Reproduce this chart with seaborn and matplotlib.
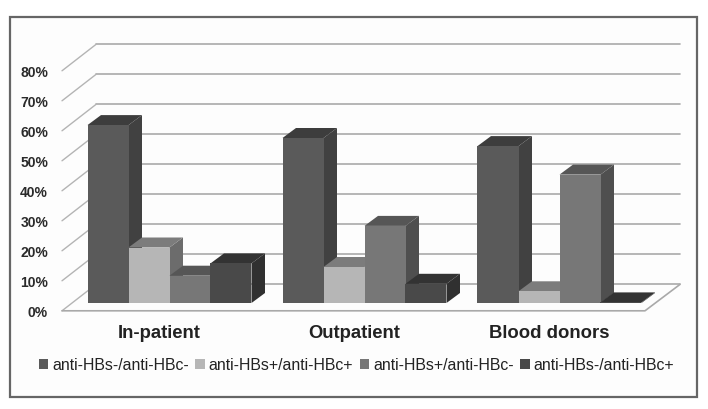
import matplotlib
matplotlib.use("Agg")
import matplotlib.pyplot as plt
from matplotlib.patches import Polygon, Rectangle
import pandas as pd
import seaborn as sns

categories = ["In-patient", "Outpatient", "Blood donors"]
series_names = ["anti-HBs-/anti-HBc-", "anti-HBs+/anti-HBc+", "anti-HBs+/anti-HBc-", "anti-HBs-/anti-HBc+"]
s1 = [59.3, 55.0, 52.3]
s2 = [18.5, 12.0, 3.9]
s3 = [9.1, 25.7, 42.8]
s4 = [13.2, 6.4, 0.2]
y_ticks = [0, 10, 20, 30, 40, 50, 60, 70, 80]
y_labels = [f"{v}%" for v in y_ticks]

front_cols = ["#5a5a5a", "#b6b6b6", "#777777", "#494949"]
top_cols = ["#3d3d3d", "#7c7c7c", "#565656", "#333333"]
side_cols = ["#414141", "#6c6c6c", "#4f4f4f", "#303030"]

sns.set_theme(style="white")
plt.rcParams["font.family"] = ["Liberation Sans", "DejaVu Sans"]

W, H = 708, 410
fig = plt.figure(figsize=(W / 100, H / 100), dpi=100, facecolor="white")
fig.add_artist(Rectangle((10 / W, 1 - 397.5 / H), 687 / W, 379.5 / H, transform=fig.transFigure,
                         facecolor="#fdfdfd", edgecolor="#666666", linewidth=1.6, zorder=-5))

L, R, T, B = 62, 680, 40, 312
ax = fig.add_axes([L / W, 1 - B / H, (R - L) / W, (B - T) / H], zorder=2)
ax.patch.set_alpha(0)

rows = []
for name, vals in zip(series_names, [s1, s2, s3, s4]):
    for c, v in zip(categories, vals):
        rows.append({"group": c, "series": name, "value": v})
df = pd.DataFrame(rows)

sns.barplot(data=df, x="group", y="value", hue="series", order=categories, hue_order=series_names,
            palette=front_cols, saturation=1, width=164 / 195, gap=0, linewidth=0, ax=ax, errorbar=None)


def X(px):
    return (px - 169.5) / 195


def Y(py):
    return (304 - py) / 3


ax.set_xlim(X(L), X(R))
ax.set_ylim(Y(B), Y(T))
for sp in ax.spines.values():
    sp.set_visible(False)

# back wall, side wall and floor
grid = dict(color="#a9a9a9", linewidth=1.2, zorder=1, solid_capstyle="round", clip_on=False)
for v in y_ticks:
    by = Y(285.4) + v
    fy = Y(311.8) + v
    ax.plot([X(96), X(R)], [by, by], **grid)
    ax.plot([X(L), X(96)], [fy, by], color="#b4b4b4", linewidth=1.0, zorder=1, clip_on=False)
ax.plot([X(L), X(645), X(R)], [Y(311.8), Y(311.8), Y(285.4)], **grid)

# 3-D faces built from the bars themselves
dx, dy = 13.5 / 195, 10 / 3
for i, cont in enumerate(ax.containers):
    for patch in cont:
        x0, w, h = patch.get_x(), patch.get_width(), patch.get_height()
        x1 = x0 + w
        z = 3 + patch.get_x() * 10 + i * 0.1 + 10
        ax.add_patch(Polygon([(x1, 0), (x1 + dx, dy), (x1 + dx, h + dy), (x1, h)],
                             facecolor=side_cols[i], edgecolor="none", zorder=z))
        ax.add_patch(Polygon([(x0, h), (x0 + dx, h + dy), (x1 + dx, h + dy), (x1, h)],
                             facecolor=top_cols[i], edgecolor="none", zorder=z))
        patch.set_zorder(z + 0.05)

# category labels
shift = -10.5 / 195
ax.set_xticks([k + shift for k in range(len(categories))])
ax.set_xticklabels(categories, fontsize=13.3, fontweight="bold", color="#222222")
ax.set_xlabel("")
ax.set_ylabel("")
ax.set_yticks([])
ax.tick_params(axis="x", length=0, pad=9.5)

# percentage labels at the front edge of the side wall
offset = -Y(311.8)
sec = ax.secondary_yaxis("left", functions=(lambda m: m + offset, lambda s: s - offset))
sec.set_yticks(y_ticks)
sec.set_yticklabels(y_labels, fontsize=10, fontweight="bold", color="#2a2a2a")
sec.tick_params(axis="y", length=0, pad=10)
sec.spines["left"].set_visible(False)

handles, labels = ax.get_legend_handles_labels()
ax.legend(handles, labels, ncol=4, frameon=False, loc="center", bbox_to_anchor=(356.5 / W, 1 - 366 / H),
          bbox_transform=fig.transFigure, fontsize=11.4, handlelength=0.6, handleheight=0.6,
          handletextpad=0.25, columnspacing=0.4, labelcolor="#222222", borderpad=0)

fig.savefig("out.png", dpi=100)
